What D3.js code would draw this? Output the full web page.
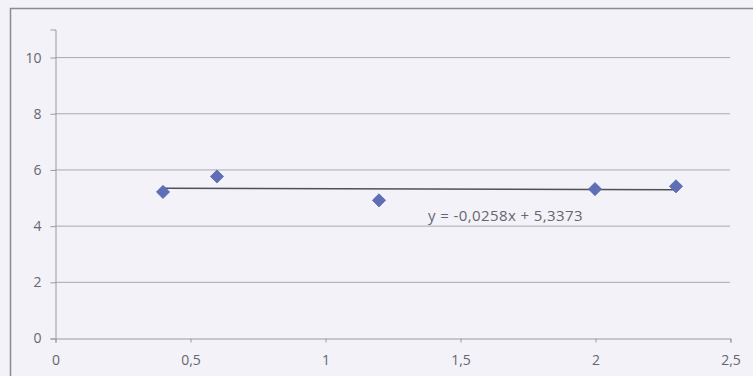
<!DOCTYPE html>
<html><head><meta charset="utf-8">
<script src="https://cdn.jsdelivr.net/npm/d3@7"></script>
<style>body{margin:0;background:#f3f2f9;}svg{display:block;}</style>
</head><body>
<svg id="c" width="753" height="376"></svg>
<script>
const xs = [0.4, 0.6, 1.2, 2.0, 2.3];
const ys = [5.2, 5.75, 4.9, 5.3, 5.4];
const xTicks = [0, 0.5, 1, 1.5, 2, 2.5];
const yTicks = [0, 2, 4, 6, 8, 10];
const slope = -0.0258, intercept = 5.3373;
const eqLabel = "y = -0,0258x + 5,3373";

const svg = d3.select("#c");
svg.append("rect").attr("x",0).attr("y",0).attr("width",753).attr("height",376).attr("fill","#f3f2f9");
svg.append("rect").attr("x",10.5).attr("y",8.5).attr("width",760).attr("height",400)
  .attr("fill","none").attr("stroke","#8a8a92").attr("stroke-width",1.5);

const x = d3.scaleLinear().domain([0,2.5]).range([55,730]);
const y = d3.scaleLinear().domain([0,11]).range([338,29]);
const fmt = d => String(d).replace(".", ",");

// gridlines
svg.append("g").selectAll("line").data(yTicks.filter(d=>d>0)).join("line")
  .attr("x1",55).attr("x2",730).attr("y1",d=>y(d)+0.5).attr("y2",d=>y(d)+0.5)
  .attr("stroke","#a9a9b1").attr("stroke-width",1);

const font = "'Open Sans', 'Liberation Sans', sans-serif";
const yAxis = svg.append("g").attr("transform","translate(55.5,0.5)")
  .call(d3.axisLeft(y).tickValues(yTicks).tickFormat(fmt).tickSize(5).tickPadding(9));
const xAxis = svg.append("g").attr("transform",`translate(0.5,${y(0)+0.5})`)
  .call(d3.axisBottom(x).tickValues(xTicks).tickFormat(fmt).tickSize(4).tickPadding(13));
[yAxis,xAxis].forEach(g=>{
  g.attr("font-size",null);
  g.select(".domain").attr("stroke","#9a9aa2");
  g.selectAll(".tick line").attr("stroke","#9a9aa2");
  g.selectAll("text").attr("fill","#66666e").attr("font-family",font).attr("font-size",14);
});

// trendline
const x0 = d3.min(xs), x1 = d3.max(xs);
svg.append("line").attr("x1",x(x0)).attr("x2",x(x1))
  .attr("y1",y(slope*x0+intercept)).attr("y2",y(slope*x1+intercept))
  .attr("stroke","#505058").attr("stroke-width",1.5);

// markers
const sym = d3.symbol().type(d3.symbolDiamond2).size(110);
svg.append("g").selectAll("path").data(xs.map((v,i)=>[v,ys[i]])).join("path")
  .attr("d",sym).attr("transform",d=>`translate(${x(d[0])},${y(d[1])})`)
  .attr("fill","#5f6fb6").attr("stroke","#5566ad").attr("stroke-width",0.8);

svg.append("text").attr("x",428).attr("y",221).text(eqLabel)
  .attr("fill","#66666e").attr("font-family",font).attr("font-size",15).attr("letter-spacing",0.4);
</script>
</body></html>
